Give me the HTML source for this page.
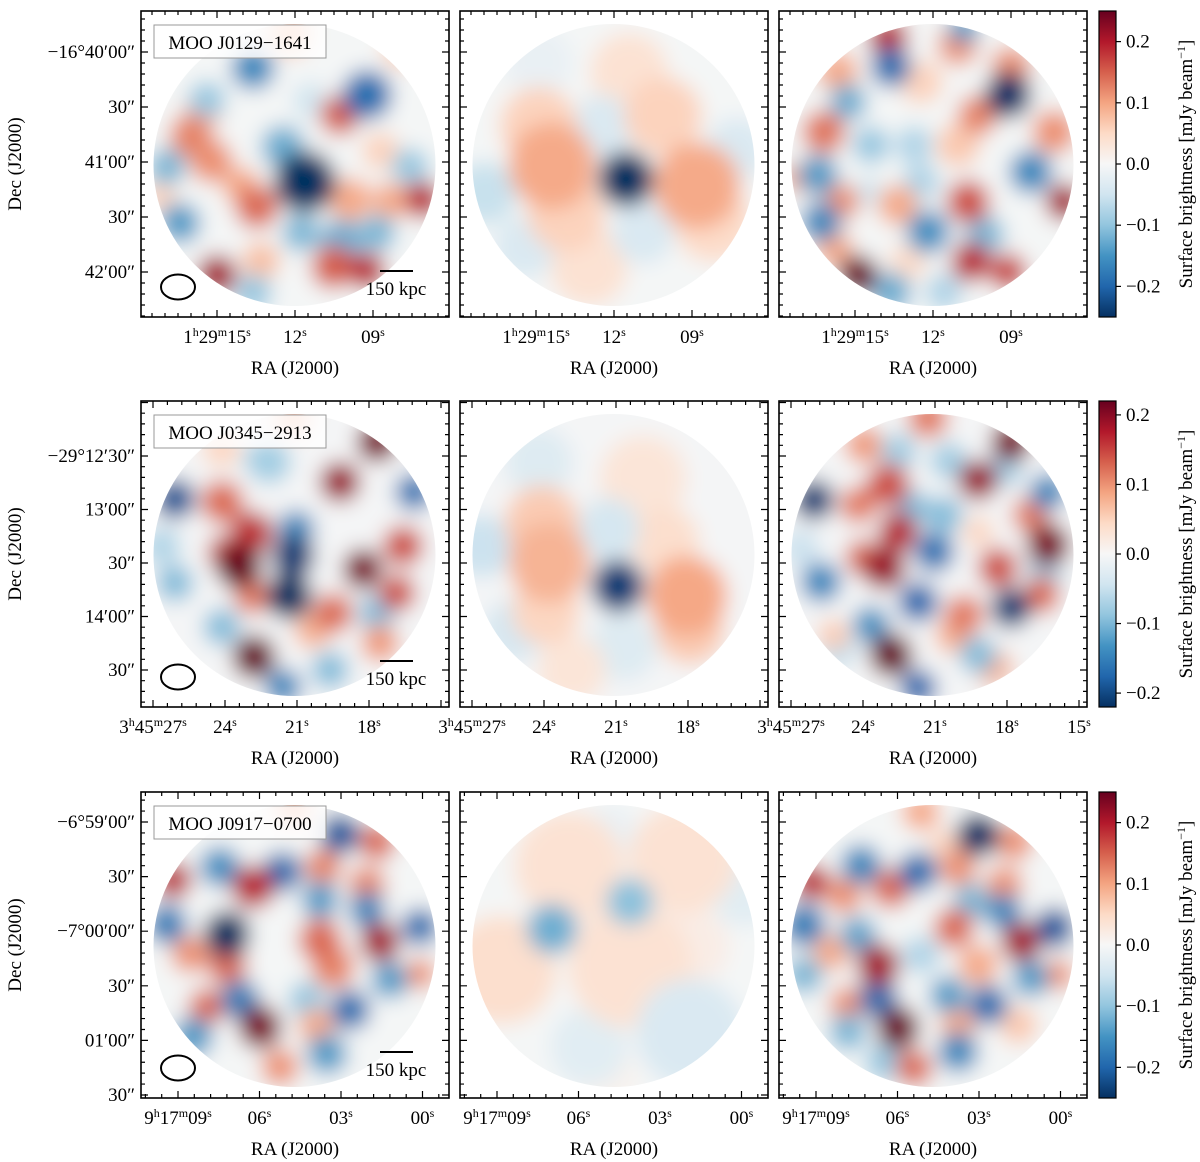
<!DOCTYPE html>
<html><head><meta charset="utf-8">
<style>
html,body{margin:0;padding:0;background:#fff;}
svg{display:block;font-family:"Liberation Serif","DejaVu Serif",serif;}
</style></head>
<body>
<svg id="fig" width="1200" height="1162" viewBox="0 0 1200 1162" xmlns="http://www.w3.org/2000/svg">
<defs>
<filter id="blur" x="-10%" y="-10%" width="120%" height="120%"><feGaussianBlur stdDeviation="10"/></filter>
<linearGradient id="cbgrad" x1="0" y1="1" x2="0" y2="0">
<stop offset="0" stop-color="#053061"/><stop offset="0.1" stop-color="#2166ac"/><stop offset="0.2" stop-color="#4393c3"/><stop offset="0.3" stop-color="#92c5de"/><stop offset="0.4" stop-color="#d1e5f0"/><stop offset="0.5" stop-color="#f7f7f7"/><stop offset="0.6" stop-color="#fddbc7"/><stop offset="0.7" stop-color="#f4a582"/><stop offset="0.8" stop-color="#d6604d"/><stop offset="0.9" stop-color="#b2182b"/><stop offset="1" stop-color="#67001f"/>
</linearGradient>
</defs>
</svg>
<script>
// ---- data: blobs per panel [x, y, radius, value(mJy/beam)] in panel-relative coords ----
const blobs11 = [[164,171,20,-0.27],[112,57,14,-0.17],[226,84,16,-0.2],[199,104,13,0.16],[50,125,14,0.13],[70,150,14,0.12],[62,100,12,0.1],[116,196,14,0.15],[100,175,12,0.1],[282,189,12,0.2],[39,212,13,-0.15],[160,222,12,-0.12],[200,230,14,-0.13],[236,222,12,-0.12],[76,264,13,0.22],[192,256,14,0.16],[226,260,12,0.2],[26,156,12,-0.12],[209,189,14,0.1],[250,190,12,0.1],[112,282,12,-0.1],[149,22,14,0.08],[142,136,14,-0.13],[66,89,12,-0.1],[269,156,12,-0.1],[240,140,12,0.06],[120,250,12,0.08],[20,185,10,0.06],[170,90,12,-0.05],[260,40,12,0.06]];
const blobs12 = [[92,155,28,0.1],[106,202,25,0.06],[79,115,25,0.06],[129,256,25,0.04],[237,175,28,0.1],[203,105,25,0.06],[169,61,25,0.04],[253,212,25,0.05],[143,115,20,-0.04],[183,222,20,-0.04],[25,182,20,-0.06],[65,236,20,-0.04],[277,138,20,-0.04],[79,51,22,-0.02],[166,168,18,-0.27]];
const blobs13 = [[109,27,13,0.2],[179,34,13,0.12],[185,17,10,-0.15],[232,56,13,0.12],[112,56,13,-0.2],[59,61,13,0.1],[229,84,15,-0.26],[142,71,14,0.06],[69,91,12,-0.13],[199,104,13,0.13],[45,121,14,0.14],[275,121,14,0.12],[92,134,12,-0.1],[135,134,12,-0.08],[179,134,14,0.07],[39,164,13,-0.15],[252,161,14,-0.17],[142,171,12,-0.08],[19,167,10,0.1],[62,191,12,0.12],[119,194,13,0.1],[189,191,14,0.17],[285,191,12,0.22],[42,211,13,-0.17],[149,221,14,-0.16],[205,224,13,-0.12],[55,237,12,0.1],[192,251,13,0.2],[229,261,12,0.18],[79,264,13,0.26],[129,251,12,0.05],[112,281,13,-0.13],[165,281,12,-0.08],[89,181,10,-0.05]];
const blobs21 = [[236,41,13,0.22],[199,81,13,0.2],[34,98,13,-0.2],[273,91,12,-0.17],[81,101,14,0.13],[111,132,14,0.17],[155,128,12,-0.15],[128,61,14,-0.08],[152,155,14,-0.22],[148,195,15,-0.25],[98,165,15,0.25],[85,152,12,0.15],[222,168,13,0.22],[262,145,13,0.15],[256,192,12,0.15],[34,182,12,-0.1],[21,145,12,-0.07],[111,195,12,0.12],[192,212,13,0.13],[236,212,12,-0.1],[81,226,12,-0.1],[113,256,14,0.26],[172,229,12,0.08],[142,286,12,-0.15],[189,269,12,-0.1],[239,242,12,0.1],[152,16,12,0.08],[118,58,10,-0.08],[81,48,12,0.05]];
const blobs22 = [[89,162,26,0.08],[82,122,24,0.06],[86,210,22,0.05],[227,195,26,0.09],[230,229,22,0.06],[183,78,28,0.03],[205,140,22,0.04],[149,128,20,-0.04],[163,246,22,-0.03],[22,145,20,-0.05],[79,61,22,-0.03],[112,269,22,0.03],[55,229,20,-0.04],[158,185,17,-0.22]];
const blobs23 = [[149,17,13,0.12],[232,41,13,0.22],[85,44,12,0.1],[119,51,12,-0.08],[170,60,12,-0.08],[225,67,12,-0.08],[199,79,13,0.2],[109,84,14,0.15],[35,99,13,-0.22],[269,91,12,-0.15],[132,107,12,-0.1],[165,114,12,-0.1],[79,104,12,0.12],[119,131,13,0.18],[269,144,14,0.22],[252,114,12,0.12],[155,151,13,-0.17],[105,167,14,0.2],[85,157,12,0.13],[42,181,13,-0.15],[219,167,13,0.15],[265,174,12,-0.08],[139,201,13,-0.18],[232,207,13,-0.22],[262,194,12,0.13],[185,214,13,0.12],[92,224,12,-0.14],[112,254,14,0.25],[175,234,12,0.08],[139,287,12,-0.18],[199,254,12,-0.1],[215,267,12,0.08],[22,147,12,-0.05],[59,247,12,-0.06],[55,234,10,0.06],[199,131,10,0.05]];
const blobs31 = [[199,42,13,-0.22],[236,50,12,0.15],[79,75,13,-0.16],[141,80,13,-0.2],[32,88,12,0.2],[112,95,14,0.2],[182,75,12,0.13],[226,93,12,0.13],[179,108,12,-0.15],[226,118,12,-0.17],[26,132,13,-0.18],[86,142,15,-0.27],[179,148,14,0.15],[239,150,13,0.22],[279,135,12,-0.2],[49,162,12,0.12],[86,173,13,0.15],[192,175,14,0.13],[249,188,12,-0.15],[279,182,10,0.12],[99,208,13,-0.18],[66,215,12,0.15],[209,218,13,-0.2],[166,208,12,-0.1],[119,235,14,0.25],[176,235,12,0.1],[52,245,13,-0.15],[186,262,13,-0.15],[139,275,12,0.12],[152,15,12,0.1]];
const blobs32 = [[109,74,35,0.04],[223,67,35,0.04],[42,178,35,0.045],[170,174,40,0.04],[230,154,25,0.02],[230,241,35,-0.04],[129,255,25,-0.03],[149,43,18,-0.02],[284,100,22,-0.03],[146,282,20,0.01],[92,137,16,-0.13],[170,110,15,-0.11]];
const blobs33 = [[199,43,14,-0.26],[235,50,12,0.12],[82,73,13,-0.17],[139,80,13,-0.2],[179,76,12,0.12],[32,90,12,0.2],[112,96,13,0.15],[65,103,12,0.12],[225,93,12,0.12],[192,110,12,-0.12],[225,120,12,-0.17],[25,133,14,-0.18],[275,136,13,-0.22],[79,143,12,-0.14],[175,136,13,0.15],[242,150,13,0.22],[52,160,12,0.1],[99,173,14,0.22],[199,173,13,0.1],[142,163,12,-0.08],[252,186,12,-0.15],[279,183,10,0.12],[99,206,13,-0.2],[69,213,12,0.12],[169,203,12,-0.15],[209,213,13,-0.2],[119,236,14,0.26],[179,233,12,0.1],[69,240,12,-0.12],[179,260,13,-0.17],[135,276,12,0.15],[105,270,12,-0.1],[239,233,12,0.07],[25,183,12,-0.12],[142,20,12,0.1],[165,53,10,0.06]];
// tick labels
const row1X = ["1h29m15s","12s","09s"];
const row2X = ["3h45m27s","24s","21s","18s"];
const row2X3 = ["3h45m27s","24s","21s","18s","15s"];
const row3X = ["9h17m09s","06s","03s","00s"];
const row1Y = ["\u221216\u00b040\u203200\u2033","30\u2033","41\u203200\u2033","30\u2033","42\u203200\u2033"];
const row2Y = ["\u221229\u00b012\u203230\u2033","13\u203200\u2033","30\u2033","14\u203200\u2033","30\u2033"];
const row3Y = ["\u22126\u00b059\u203200\u2033","30\u2033","\u22127\u00b000\u203200\u2033","30\u2033","01\u203200\u2033","30\u2033"];
const cbTicks = [-0.2,-0.1,0.0,0.1,0.2];
const cbRange = [0.25,0.22,0.25];
const names = ["MOO J0129\u22121641","MOO J0345\u22122913","MOO J0917\u22120700"];

const NS="http://www.w3.org/2000/svg";
const svg=document.getElementById('fig');
function mk(tag,attrs,parent){const e=document.createElementNS(NS,tag);for(const k in attrs)e.setAttribute(k,attrs[k]);(parent||svg).appendChild(e);return e;}
const stops=["#053061","#2166ac","#4393c3","#92c5de","#d1e5f0","#f7f7f7","#fddbc7","#f4a582","#d6604d","#b2182b","#67001f"].map(h=>[parseInt(h.slice(1,3),16),parseInt(h.slice(3,5),16),parseInt(h.slice(5,7),16)]);
function cmap(v,vmax){let t=(v+vmax)/(2*vmax);t=Math.max(0,Math.min(1,t))*10;const i=Math.min(9,Math.floor(t)),f=t-i;const a=stops[i],b=stops[i+1];return `rgb(${a.map((c,j)=>Math.round(c+(b[j]-c)*f)).join(',')})`;}

const PX=[141,460,779], PY=[11,401,792], PW=308, PH=306;
const allBlobs=[[blobs11,blobs12,blobs13],[blobs21,blobs22,blobs23],[blobs31,blobs32,blobs33]];
const xCfg=[{first:76,step:78,sub:6},{first:12,step:72,sub:5},{first:37,step:81.5,sub:5}];
const yCfg=[{first:41,step:55,sub:5},{first:55,step:53.5,sub:5},{first:30,step:54.6,sub:5}];
const xLabs=[[row1X,row1X,row1X],[row2X,row2X,row2X3],[row3X,row3X,row3X]];
const yLabs=[row1Y,row2Y,row3Y];
const RSCALE=1.55;

function raLabel(g,x,y,s){
  const t=mk('text',{x:x,y:y,'text-anchor':'middle','font-size':19},g);
  
  
  const parts=s.match(/\d+[hms]/g);
  parts.forEach(p=>{const num=p.slice(0,-1),u=p.slice(-1);
    const a=mk('tspan',{},t);a.textContent=num;
    const b=mk('tspan',{'font-size':12,'baseline-shift':'super'},t);b.textContent=u;});
}

for(let r=0;r<3;r++){
  const vmax=cbRange[r];
  for(let c=0;c<3;c++){
    const x0=PX[c],y0=PY[r];
    const g=mk('g',{transform:`translate(${x0},${y0})`});
    
    
    const cid=`clip${r}${c}`;
    const cp=mk('clipPath',{id:cid},g);
    mk('circle',{cx:153.5,cy:154,r:141},cp);
    const cg=mk('g',{'clip-path':`url(#${cid})`},g);
    const bg=mk('g',{filter:'url(#blur)'},cg);
    mk('rect',{x:-20,y:-20,width:350,height:350,fill:cmap(-0.004,vmax)},bg);
    const sorted=allBlobs[r][c].slice().sort((a,b)=>Math.abs(a[3])-Math.abs(b[3]));
    sorted.forEach(b=>{
      const R=b[2]*RSCALE;
      const e=mk('circle',{cx:b[0],cy:b[1],r:R,fill:cmap(b[3]*0.95,vmax)},bg);
      
      
    });
    const fr=mk('rect',{x:0,y:0,width:PW,height:PH,fill:'none',stroke:'#000','stroke-width':1.6},g);
    
    
    let d='';
    const xc=xCfg[r],yc=yCfg[r];
    const xm=xc.step/xc.sub, ym=yc.step/yc.sub;
    for(let k=-30;k<60;k++){const x=xc.first+k*xm; if(x<1||x>PW-1)continue; const L=(k%xc.sub===0)?7:4; d+=`M${x},${PH}v${-L}M${x},0v${L}`;}
    for(let k=-30;k<60;k++){const y=yc.first+k*ym; if(y<1||y>PH-1)continue; const L=(k%yc.sub===0)?7:4; d+=`M0,${y}h${L}M${PW},${y}h${-L}`;}
    const tk=mk('path',{d:d,stroke:'#000','stroke-width':1.2,fill:'none'},g);
    
    
    xLabs[r][c].forEach((s,i)=>raLabel(g,xc.first+i*xc.step,PH+26,s));
    const xt=mk('text',{x:PW/2,y:PH+57,'text-anchor':'middle','font-size':19},g);
    xt.textContent='RA (J2000)';
    
    
    if(c===0){
      yLabs[r].forEach((s,i)=>{const t=mk('text',{x:-6,y:yc.first+i*yc.step+6,'text-anchor':'end','font-size':19},g);t.textContent=s;
        
        });
      const yt=mk('text',{transform:`translate(${21-x0},${PH/2}) rotate(-90)`,'text-anchor':'middle','font-size':19},g);
      yt.textContent='Dec (J2000)';
      
      
      const nb=mk('rect',{x:13,y:14,width:172,height:33,fill:'#fff','fill-opacity':0.8,stroke:'#999','stroke-width':1},g);
      
      
      const nt=mk('text',{x:99,y:38,'text-anchor':'middle','font-size':19},g);
      nt.textContent=names[r];
      
      
      const be=mk('ellipse',{cx:37,cy:276,rx:17,ry:12.5,fill:'none',stroke:'#000','stroke-width':2},g);
      
      
      const sb=mk('line',{x1:239,y1:260,x2:272,y2:260,stroke:'#000','stroke-width':2},g);
      
      
      const st=mk('text',{x:255,y:284,'text-anchor':'middle','font-size':19},g);
      st.textContent='150 kpc';
      
      
    }
  }
  const cx=1099,cy=PY[r],ch=PH,cw=17;
  const cb=mk('g',{transform:`translate(${cx},${cy})`});
  
  
  mk('rect',{x:0,y:0,width:cw,height:ch,fill:'url(#cbgrad)',stroke:'#000','stroke-width':1.2},cb);
  cbTicks.forEach(v=>{const y=ch/2-v/vmax*ch/2;
    mk('line',{x1:cw,y1:y,x2:cw+5,y2:y,stroke:'#000','stroke-width':1.2},cb);
    const t=mk('text',{x:cw+10,y:y+6,'font-size':19},cb);
    t.textContent=(v<0?'\u2212':'')+Math.abs(v).toFixed(1);
    
    });
  const lt=mk('text',{transform:`translate(${1192-cx},${ch/2}) rotate(-90)`,'text-anchor':'middle','font-size':19},cb);
  lt.innerHTML='Surface brightness [mJy beam<tspan font-size="12" baseline-shift="super">\u22121</tspan>]';
  
  
}
</script>
</body></html>
